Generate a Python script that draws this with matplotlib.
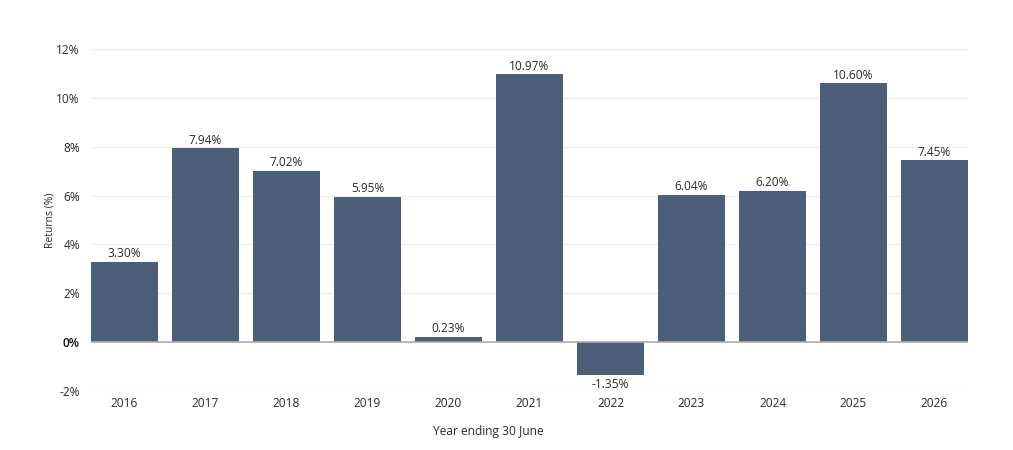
import matplotlib
matplotlib.use("Agg")
import matplotlib.pyplot as plt
from matplotlib.ticker import FixedLocator

years = ["2016", "2017", "2018", "2019", "2020", "2021", "2022", "2023", "2024", "2025", "2026"]
returns = [3.30, 7.94, 7.02, 5.95, 0.23, 10.97, -1.35, 6.04, 6.20, 10.60, 7.45]
yticks = [-2, 0, 2, 4, 6, 8, 10, 12]

plt.rcParams['font.family'] = ['Open Sans', 'DejaVu Sans']

W, H = 1013, 450
L, R, T, B = 91, 968, 49, 391
fig = plt.figure(figsize=(W / 100, H / 100), dpi=100)
ax = fig.add_axes([L / W, (H - B) / H, (R - L) / W, (B - T) / H])

bar_color = "#4c5e78"
txt = "#2a2a2a"
x = list(range(len(years)))
bw = 67 / 81
ax.bar(x, returns, width=bw, color=bar_color, zorder=2)

for xi, v in zip(x, returns):
    if v >= 0:
        ax.text(xi, v + 0.06, f"{v:.2f}%", ha="center", va="bottom", fontsize=8.6, color=txt, zorder=3)
    else:
        ax.text(xi, v - 0.1, f"{v:.2f}%", ha="center", va="top", fontsize=8.6, color=txt, zorder=3)

ax.set_xlim(-bw / 2, len(years) - 1 + bw / 2)
ax.set_ylim(-2, 12)
ax.yaxis.set_major_locator(FixedLocator(yticks))
ax.set_yticklabels([f"{t}%" for t in yticks])
ax.set_xticks(x)
ax.set_xticklabels(years)

for t in yticks:
    if t == 0:
        continue
    ax.axhline(t, color="#eeeeee", lw=1, zorder=1)
ax.axhline(0, color="#aaaaaa", lw=1.2, zorder=3)

for s in ax.spines.values():
    s.set_visible(False)
ax.tick_params(axis="both", length=0, labelsize=8.6, colors=txt)
ax.tick_params(axis="y", pad=8)
ax.tick_params(axis="x", pad=4)
for lbl in ax.get_yticklabels():
    if lbl.get_text() == "0%":
        lbl.set_color("#111111")
        lbl.set_fontweight("semibold")

ax.set_ylabel("Returns (%)", fontsize=7.5, color=txt)
ax.yaxis.set_label_coords((50 - L) / (R - L), 0.5)
ax.set_xlabel("Year ending 30 June", fontsize=8.6, color=txt)
ax.xaxis.set_label_coords((488 - L) / (R - L), -(432 - B) / (B - T))
ax.xaxis.label.set_va("center")
ax.yaxis.label.set_va("center")

fig.savefig("out.png", dpi=100)
